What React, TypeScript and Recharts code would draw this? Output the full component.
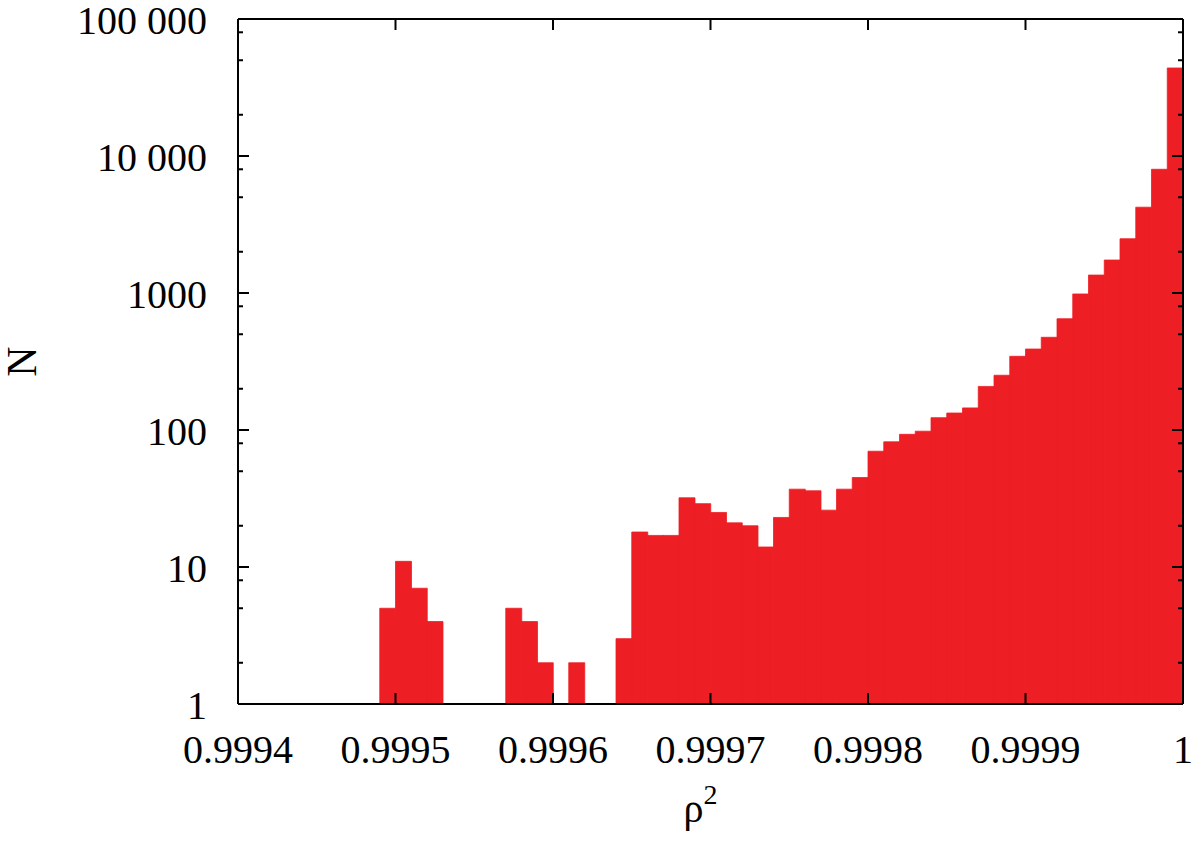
import React from "react"
import { ComposedChart, Bar, XAxis, YAxis } from "recharts"

// histogram of rho^2, bins of width 1e-5 starting at 0.9994 (null = empty bin)
const BIN_START = 0.9994
const BIN_WIDTH = 0.00001
const COUNTS: (number | null)[] = [
  null, null, null, null, null, null, null, null, null, 5,
  11, 7, 4, null, null, null, null, 5, 4, 2,
  null, 2, null, null, 3, 18, 17, 17, 32, 29,
  25, 21, 20, 14, 23, 37, 36, 26, 37, 45,
  70, 82, 93, 98, 123, 133, 145, 208, 251, 345,
  390, 475, 649, 984, 1352, 1740, 2490, 4230, 8000, 43900,
]

const X_TICKS = [0.9994, 0.9995, 0.9996, 0.9997, 0.9998, 0.9999, 1]
const Y_MAJOR = [1, 10, 100, 1000, 10000, 100000]
const Y_MINOR = [2, 5, 8, 20, 50, 80, 200, 500, 800, 2000, 5000, 8000, 20000, 50000, 80000]
const Y_TICKS = [...Y_MAJOR, ...Y_MINOR].sort((a, b) => a - b)

const bins = COUNTS.map((n, i) => ({ x: BIN_START + (i + 0.5) * BIN_WIDTH, n }))

const FONT = "'Liberation Serif', 'Times New Roman', serif"
const RED = "#ed1f24"
const isMajor = (v: number) => Y_MAJOR.includes(v)
const fmtY = (v: number) => (v >= 10000 ? v.toLocaleString("en-US").replace(/,/g, " ") : `${v}`)
const fmtX = (v: number) => (v === 1 ? "1" : v.toFixed(4))

function LeftTick({ x, y, payload }: any) {
  const major = isMajor(payload.value)
  return (
    <g>
      <line x1={x} y1={y} x2={x + (major ? 11 : 5)} y2={y} stroke="#000" strokeWidth={2} />
      {major && (
        <text x={x - 31} y={y + 1} dy="0.35em" textAnchor="end" fontFamily={FONT} fontSize={40} fill="#000">
          {fmtY(payload.value)}
        </text>
      )}
    </g>
  )
}

function RightTick({ x, y, payload }: any) {
  const major = isMajor(payload.value)
  return <line x1={x} y1={y} x2={x - (major ? 11 : 5)} y2={y} stroke="#000" strokeWidth={2} />
}

function BottomTick({ x, y, payload }: any) {
  return (
    <g>
      <line x1={x} y1={y} x2={x} y2={y - 11} stroke="#000" strokeWidth={2} />
      <text x={x} y={y + 59} textAnchor="middle" fontFamily={FONT} fontSize={40} fill="#000">
        {fmtX(payload.value)}
      </text>
    </g>
  )
}

function TopTick({ x, y }: any) {
  return <line x1={x} y1={y} x2={x} y2={y + 11} stroke="#000" strokeWidth={2} />
}

function YLabel({ viewBox }: any) {
  const cx = 22
  const cy = viewBox.y + viewBox.height / 2
  return (
    <text x={cx} y={cy} transform={`rotate(-90 ${cx} ${cy})`} textAnchor="middle" dominantBaseline="central"
      fontFamily={FONT} fontSize={42} fill="#000">
      N
    </text>
  )
}

function XLabel({ viewBox }: any) {
  const cx = viewBox.x + viewBox.width / 2 - 10
  return (
    <text x={cx} y={viewBox.y + 118} textAnchor="middle" fontFamily={FONT} fontSize={40} fill="#000">
      <tspan>ρ</tspan>
      <tspan dy={-18} fontSize={28}>2</tspan>
    </text>
  )
}

export default function App() {
  return (
    <div style={{ position: "absolute", left: 0, top: 0, background: "#fff" }}>
      <ComposedChart
        width={1200}
        height={847}
        data={bins}
        margin={{ top: 0, right: 0, bottom: 0, left: 0 }}
        barCategoryGap={0}
        barGap={0}
      >
        <XAxis
          xAxisId="bottom"
          dataKey="x"
          type="number"
          domain={[0.9994, 1]}
          allowDataOverflow
          ticks={X_TICKS}
          interval={0}
          height={143}
          tickSize={0}
          tickMargin={0}
          tickLine={false}
          axisLine={{ stroke: "#000", strokeWidth: 2 }}
          tick={<BottomTick />}
          label={<XLabel />}
        />
        <XAxis
          xAxisId="top"
          orientation="top"
          dataKey="x"
          type="number"
          domain={[0.9994, 1]}
          allowDataOverflow
          ticks={X_TICKS}
          interval={0}
          height={19}
          tickSize={0}
          tickMargin={0}
          tickLine={false}
          axisLine={{ stroke: "#000", strokeWidth: 2 }}
          tick={<TopTick />}
        />
        <YAxis
          yAxisId="left"
          scale="log"
          domain={[1, 100000]}
          allowDataOverflow
          ticks={Y_TICKS}
          interval={0}
          width={238}
          tickSize={0}
          tickMargin={0}
          tickLine={false}
          axisLine={{ stroke: "#000", strokeWidth: 2 }}
          tick={<LeftTick />}
          label={<YLabel />}
        />
        <YAxis
          yAxisId="right"
          orientation="right"
          scale="log"
          domain={[1, 100000]}
          allowDataOverflow
          ticks={Y_TICKS}
          interval={0}
          width={17}
          tickSize={0}
          tickMargin={0}
          tickLine={false}
          axisLine={{ stroke: "#000", strokeWidth: 2 }}
          tick={<RightTick />}
        />
        <Bar
          dataKey="n"
          xAxisId="bottom"
          yAxisId="left"
          fill={RED}
          stroke={RED}
          strokeWidth={0.8}
          isAnimationActive={false}
        />
      </ComposedChart>
    </div>
  )
}
